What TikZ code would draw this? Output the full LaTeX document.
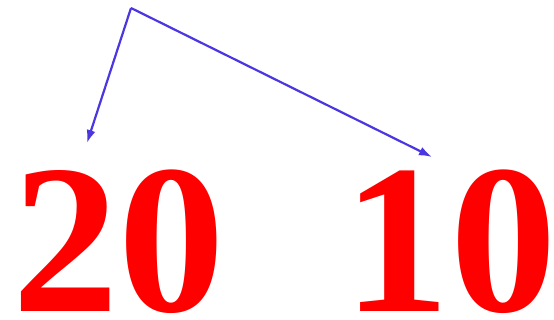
\documentclass[tikz,border=0pt]{standalone}
\usepackage{fontspec}
\setmainfont{Liberation Serif}
\definecolor{numred}{RGB}{255,0,0}
\definecolor{arrowblue}{RGB}{75,55,225}
\usetikzlibrary{arrows.meta,positioning}

\begin{document}
\begin{tikzpicture}[x=1pt, y=-1pt,
    digits/.style={inner sep=0pt, text=numred,
                   font=\fontsize{213}{213}\selectfont\bfseries},
    pointer/.style={draw=arrowblue, line width=2.2pt,
                    -{Latex[length=13pt, width=9pt]}}
  ]
    \useasboundingbox (0,0) rectangle (554,320);

    % Numbers
    \node[digits, anchor=base west] (twenty) at (12, 312) {20};
    \node[digits, anchor=base west] (ten) at (343.5, 312) {10};

    % Arrow ends
    \coordinate (apex) at (131, 8);
    \coordinate (left end) at (87, 143);
    \coordinate (right end) at (432, 157);

    % Arrows
    \draw[pointer] (apex) -- (left end);
    \draw[pointer] (apex) -- (right end);
  \end{tikzpicture}
\end{document}
